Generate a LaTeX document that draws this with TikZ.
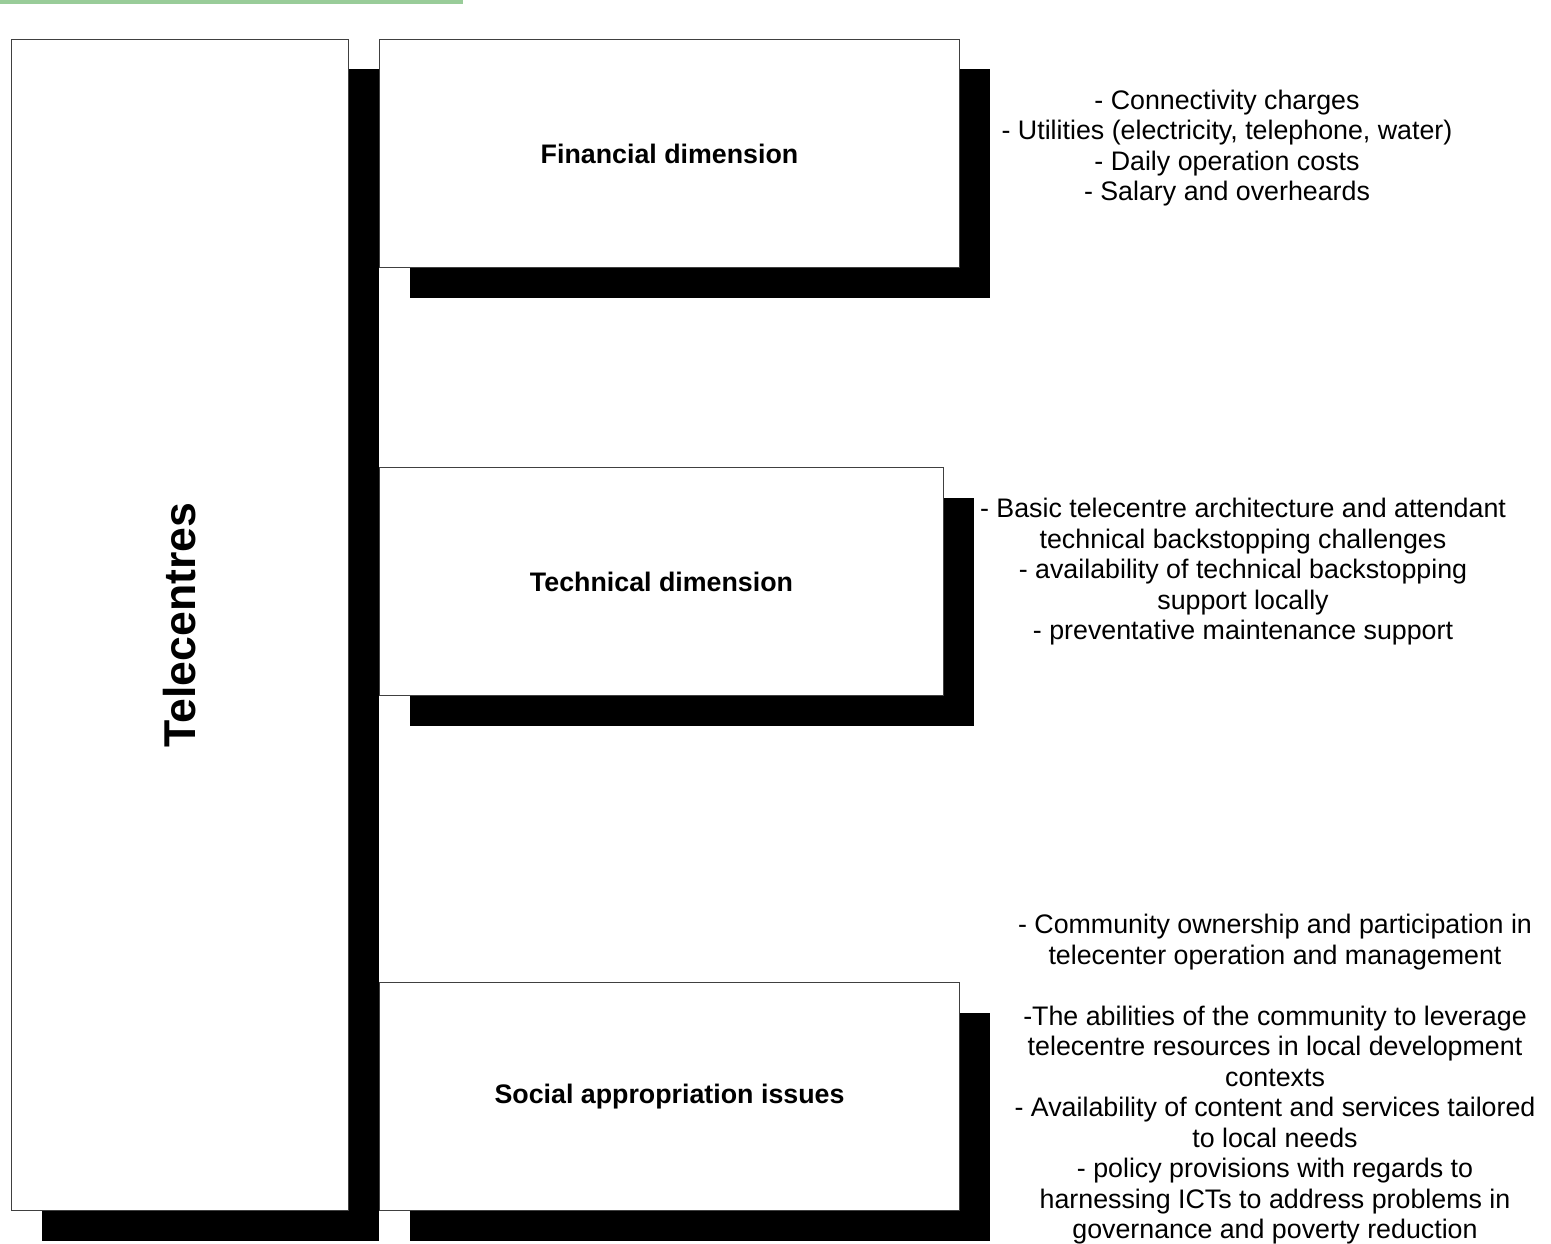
\documentclass[tikz,border=0pt]{standalone}
\usepackage{fontspec}
\setmainfont{Liberation Sans}
\usepackage{tikz}
\usetikzlibrary{shadows}
\definecolor{barGreen}{RGB}{153,204,153}

\begin{document}
\begin{tikzpicture}[x=1pt, y=1pt,
  box/.style={draw=black!75, line width=1pt, fill=white, inner sep=0pt, anchor=north west,
    general shadow={fill=black, shadow xshift=30pt, shadow yshift=-30pt},
    font=\fontsize{26.8}{30.5}\selectfont\bfseries},
  notes/.style={align=center, inner sep=0pt, font=\fontsize{26.8}{30.5}\selectfont}]
  \useasboundingbox (0,0) rectangle (1551,-1244);
  \fill[barGreen] (0,0) rectangle (463,-4);
  \node[box, minimum width=337pt, minimum height=1171pt] (tele) at (11,-39) {};
  \node[rotate=90, font=\fontsize{44.6}{50}\selectfont\bfseries] at (tele.center) {Telecentres};
  \node[box, minimum width=580pt, minimum height=228pt] (fin) at (379,-39) {Financial dimension};
  \node[box, minimum width=564pt, minimum height=228pt] (tech) at (379,-467) {Technical dimension};
  \node[box, minimum width=580pt, minimum height=228pt] (soc) at (379,-982) {Social appropriation issues};
  \node[notes] (finNotes) at (1227,-148) {- Connectivity charges\\- Utilities (electricity, telephone, water)\\- Daily operation costs\\- Salary and overheards};
  \node[notes] (techNotes) at (1243,-572) {- Basic telecentre architecture and attendant\\technical backstopping challenges\\- availability of technical backstopping\\support locally\\- preventative maintenance support};
  \node[notes] (socNotes) at (1275,-1079.5) {- Community ownership and participation in\\telecenter operation and management\\[30.5pt]-The abilities of the community to leverage\\telecentre resources in local development\\contexts\\- Availability of content and services tailored\\to local needs\\- policy provisions with regards to\\harnessing ICTs to address problems in\\governance and poverty reduction};
\end{tikzpicture}
\end{document}
